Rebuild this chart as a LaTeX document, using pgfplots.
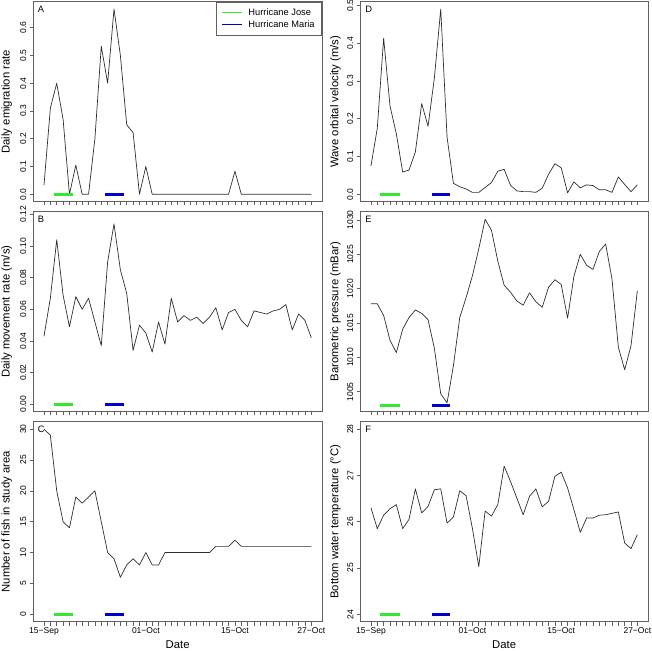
\documentclass[border=0pt]{standalone}
\usepackage{fontspec}
\setmainfont{Liberation Sans}
\usepackage{pgfplots}
\pgfplotsset{compat=1.18}
\definecolor{hjose}{RGB}{50,232,50}
\definecolor{hmaria}{RGB}{0,0,205}
\definecolor{framec}{gray}{0.38}
\definecolor{datac}{gray}{0.18}
\newcommand{\tickfont}{\fontsize{8.5}{10}\selectfont}
\newcommand{\labfont}{\fontsize{11.3}{13}\selectfont}
\newcommand{\letfont}{\fontsize{9.3}{11}\selectfont}
\pgfplotsset{
 panel/.style={
  scale only axis, height=200pt,
  xmin=-1.68, xmax=43.68,
  axis line style={draw=framec, line width=0.7pt},
  tick style={draw=framec, line width=0.6pt},
  tick align=outside, tick pos=left,
  major tick length=3.8pt,
  xtick={0,...,42}, xticklabels={},
  xticklabel shift=2.2pt, yticklabel shift=3pt,
  xticklabel style={font=\tickfont, anchor=north, inner sep=0pt},
  yticklabel style={font=\tickfont, rotate=90, anchor=south, inner sep=0pt},
  every axis y label/.style={at={(axis description cs:-0.082,0.5)}, rotate=90, anchor=base, font=\labfont},
  every axis x label/.style={at={(axis description cs:0.5,0)}, anchor=base, yshift=-26.6pt, font=\labfont},
  /pgf/number format/assume math mode=true,
 },
 leftp/.style={panel, width=288.7pt},
 rightp/.style={panel, width=287.7pt},
 dates/.style={xticklabels={15−Sep,,,,,,,,,,,,,,,,01−Oct,,,,,,,,,,,,,,15−Oct,,,,,,,,,,,,27−Oct}},
 dataline/.style={datac, line width=0.7pt, line join=round},
 jose/.style={hjose, line width=3pt},
 maria/.style={hmaria, line width=3pt},
}
\begin{document}
\begin{tikzpicture}
\useasboundingbox (0,0) rectangle (652pt,650pt);
% ---------------- A
\begin{axis}[leftp, at={(33.3pt,448.3pt)}, anchor=south west,
  ymin=-0.02668, ymax=0.69348,
  ytick={0,0.1,0.2,0.3,0.4,0.5,0.6}, yticklabels={0.0,0.1,0.2,0.3,0.4,0.5,0.6},
  ylabel={Daily emigration rate},
  legend style={at={(1,1)}, anchor=north east, draw=framec, line width=0.7pt,
    font=\fontsize{9.3}{11}\selectfont, inner xsep=5.5pt, inner ysep=4.95pt,
    row sep=0.64pt, column sep=4.7pt, nodes={inner sep=1.5pt, text depth=0.15em}, cells={anchor=west}},
  legend image code/.code={\draw[#1, line width=1.3pt] (0pt,0pt) -- (19.6pt,0pt);},
]
\addplot[dataline, forget plot] coordinates {
(0,0.033) (1,0.31) (2,0.40) (3,0.27) (4,0.0) (5,0.105) (6,0.0) (7,0.0) (8,0.2) (9,0.533)
(10,0.40) (11,0.667) (12,0.50) (13,0.25) (14,0.222) (15,0.0) (16,0.1) (17,0) (18,0) (19,0)
(20,0) (21,0) (22,0) (23,0) (24,0) (25,0) (26,0) (27,0) (28,0) (29,0)
(30,0.083) (31,0) (32,0) (33,0) (34,0) (35,0) (36,0) (37,0) (38,0) (39,0) (40,0) (41,0) (42,0)};
\addplot[jose] coordinates {(1.5,0) (4.5,0)};
\addlegendentry{Hurricane Jose}
\addplot[maria] coordinates {(9.55,0) (12.5,0)};
\addlegendentry{Hurricane Maria}
\node[anchor=north west, inner sep=0pt, font=\letfont, xshift=4.3pt, yshift=-4.3pt] at (rel axis cs:0,1) {A};
\end{axis}
% ---------------- B
\begin{axis}[leftp, at={(33.3pt,238.3pt)}, anchor=south west,
  ymin=-0.0047, ymax=0.1217,
  ytick={0,0.02,0.04,0.06,0.08,0.10,0.12}, yticklabels={0.00,0.02,0.04,0.06,0.08,0.10,0.12},
  ylabel={Daily movement rate (m/s)},
]
\addplot[dataline] coordinates {
(0,0.043) (1,0.067) (2,0.104) (3,0.069) (4,0.049) (5,0.068) (6,0.060) (7,0.067) (8,0.052) (9,0.037)
(10,0.090) (11,0.114) (12,0.085) (13,0.070) (14,0.034) (15,0.050) (16,0.045) (17,0.033) (18,0.052) (19,0.038)
(20,0.067) (21,0.052) (22,0.056) (23,0.053) (24,0.055) (25,0.051) (26,0.055) (27,0.061) (28,0.047) (29,0.058)
(30,0.060) (31,0.053) (32,0.049) (33,0.059) (34,0.058) (35,0.057) (36,0.059) (37,0.060) (38,0.063) (39,0.047)
(40,0.057) (41,0.053) (42,0.042)};
\addplot[jose] coordinates {(1.5,0) (4.5,0)};
\addplot[maria] coordinates {(9.55,0) (12.5,0)};
\node[anchor=north west, inner sep=0pt, font=\letfont, xshift=4.3pt, yshift=-4.3pt] at (rel axis cs:0,1) {B};
\end{axis}
% ---------------- C
\begin{axis}[leftp, dates, at={(33.3pt,28.3pt)}, anchor=south west,
  ymin=-1.2, ymax=31.2,
  ytick={0,5,10,15,20,25,30}, yticklabels={0,5,10,15,20,25,30},
  ylabel={Number of fish in study area}, xlabel={Date},
]
\addplot[dataline] coordinates {
(0,30) (1,29) (2,20) (3,15) (4,14) (5,19) (6,18) (7,19) (8,20) (9,15)
(10,10) (11,9) (12,6) (13,8) (14,9) (15,8) (16,10) (17,8) (18,8) (19,10)
(20,10) (21,10) (22,10) (23,10) (24,10) (25,10) (26,10) (27,11) (28,11) (29,11)
(30,12) (31,11) (32,11) (33,11) (34,11) (35,11) (36,11) (37,11) (38,11) (39,11) (40,11) (41,11) (42,11)};
\addplot[jose] coordinates {(1.5,0) (4.5,0)};
\addplot[maria] coordinates {(9.55,0) (12.5,0)};
\node[anchor=north west, inner sep=0pt, font=\letfont, xshift=4.3pt, yshift=-4.3pt] at (rel axis cs:0,1) {C};
\end{axis}
% ---------------- D
\begin{axis}[rightp, at={(360.3pt,448.3pt)}, anchor=south west,
  ymin=-0.0196, ymax=0.5096,
  ytick={0,0.1,0.2,0.3,0.4,0.5}, yticklabels={0.0,0.1,0.2,0.3,0.4,0.5},
  every axis y label/.style={at={(axis description cs:-0.0764,0.5)}, rotate=90, anchor=base, font=\labfont},
  ylabel={Wave orbital velocity (m/s)},
]
\addplot[dataline] coordinates {
(0,0.075) (1,0.175) (2,0.413) (3,0.234) (4,0.160) (5,0.059) (6,0.064) (7,0.112) (8,0.240) (9,0.180)
(10,0.308) (11,0.490) (12,0.151) (13,0.029) (14,0.020) (15,0.014) (16,0.005) (17,0.005) (18,0.018) (19,0.031)
(20,0.061) (21,0.066) (22,0.024) (23,0.009) (24,0.007) (25,0.007) (26,0.005) (27,0.016) (28,0.053) (29,0.081)
(30,0.070) (31,0.004) (32,0.033) (33,0.017) (34,0.025) (35,0.023) (36,0.012) (37,0.012) (38,0.005) (39,0.046)
(40,0.026) (41,0.007) (42,0.025)};
\addplot[jose] coordinates {(1.5,0) (4.5,0)};
\addplot[maria] coordinates {(9.55,0) (12.5,0)};
\node[anchor=north west, inner sep=0pt, font=\letfont, xshift=4.8pt, yshift=-4.3pt] at (rel axis cs:0,1) {D};
\end{axis}
% ---------------- E
\begin{axis}[rightp, at={(360.3pt,238.3pt)}, anchor=south west,
  ymin=1002.1, ymax=1031.2,
  ytick={1005,1010,1015,1020,1025,1030}, yticklabels={1005,1010,1015,1020,1025,1030},
  every axis y label/.style={at={(axis description cs:-0.0764,0.5)}, rotate=90, anchor=base, font=\labfont},
  ylabel={Barometric pressure (mBar)},
]
\addplot[dataline] coordinates {
(0,1017.8) (1,1017.8) (2,1016.1) (3,1012.5) (4,1010.7) (5,1014.1) (6,1015.8) (7,1016.9) (8,1016.4) (9,1015.5)
(10,1011.3) (11,1004.7) (12,1003.4) (13,1008.8) (14,1015.8) (15,1018.7) (16,1021.9) (17,1025.8) (18,1030.1) (19,1028.5)
(20,1024.0) (21,1020.5) (22,1019.5) (23,1018.2) (24,1017.6) (25,1019.4) (26,1018.1) (27,1017.3) (28,1020.2) (29,1021.3)
(30,1020.6) (31,1015.7) (32,1021.8) (33,1025.0) (34,1023.4) (35,1022.8) (36,1025.4) (37,1026.5) (38,1021.4) (39,1011.5)
(40,1008.2) (41,1011.7) (42,1019.7)};
\addplot[jose] coordinates {(1.5,1003) (4.5,1003)};
\addplot[maria] coordinates {(9.55,1003) (12.5,1003)};
\node[anchor=north west, inner sep=0pt, font=\letfont, xshift=4.8pt, yshift=-4.3pt] at (rel axis cs:0,1) {E};
\end{axis}
% ---------------- F
\begin{axis}[rightp, dates, at={(360.3pt,28.3pt)}, anchor=south west,
  ymin=23.84, ymax=28.16,
  ytick={24,25,26,27,28}, yticklabels={24,25,26,27,28},
  every axis y label/.style={at={(axis description cs:-0.0764,0.5)}, rotate=90, anchor=base, font=\labfont},
  ylabel={Bottom water temperature (°C)}, xlabel={Date},
]
\addplot[dataline] coordinates {
(0,26.30) (1,25.85) (2,26.14) (3,26.28) (4,26.37) (5,25.85) (6,26.05) (7,26.71) (8,26.19) (9,26.33)
(10,26.69) (11,26.71) (12,25.97) (13,26.10) (14,26.67) (15,26.56) (16,25.85) (17,25.03) (18,26.23) (19,26.12)
(20,26.37) (21,27.20) (22,26.87) (23,26.51) (24,26.15) (25,26.55) (26,26.71) (27,26.32) (28,26.44) (29,26.98)
(30,27.07) (31,26.73) (32,26.26) (33,25.77) (34,26.08) (35,26.08) (36,26.14) (37,26.15) (38,26.18) (39,26.21)
(40,25.54) (41,25.42) (42,25.72)};
\addplot[jose] coordinates {(1.5,24) (4.5,24)};
\addplot[maria] coordinates {(9.55,24) (12.5,24)};
\node[anchor=north west, inner sep=0pt, font=\letfont, xshift=4.8pt, yshift=-4.3pt] at (rel axis cs:0,1) {F};
\end{axis}
\end{tikzpicture}
\end{document}
